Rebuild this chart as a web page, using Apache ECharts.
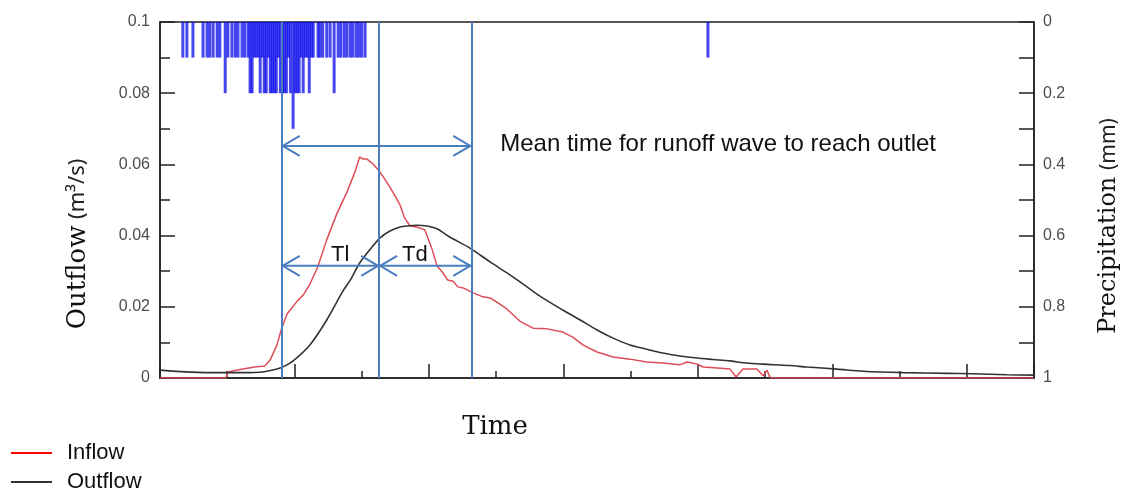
<!DOCTYPE html>
<html>
<head>
<meta charset="utf-8">
<title>Runoff hydrograph</title>
<script src="https://cdn.jsdelivr.net/npm/echarts@6/dist/echarts.min.js"></script>
<style>
  html, body { margin: 0; padding: 0; background: #fff; }
  #chart { width: 1129px; height: 492px; }
</style>
</head>
<body>
<div id="chart"></div>
<script>
// Time axis runs 0..130 (no tick labels)
const timeMin = 0;
const timeMax = 130;

// Tick labels of the two vertical axes
const flowTickLabels = ['0', '', '0.02', '', '0.04', '', '0.06', '', '0.08', '', '0.1'];
const precipTickLabels = ['0', '', '0.2', '', '0.4', '', '0.6', '', '0.8', '', '1'];

// Inflow hydrograph (m3/s)
const inflowTime = [0, 9.8, 10.1, 12.3, 14.1, 15.6, 16.4, 17.4, 18.1, 18.9,
  20.4, 21.3, 22.3, 23.4, 24.8, 26.3, 27.8, 29.0, 29.7, 30.2,
  30.8, 31.7, 32.7, 33.8, 34.7, 35.7, 36.4, 37.2, 38.2, 39.4,
  40.5, 41.2, 42.1, 42.8, 43.6, 44.3, 45.1, 46.6, 48.0, 49.1,
  50.1, 51.6, 53.5, 55.5, 57.6, 59.9, 61.4, 62.9, 65.0, 67.4,
  69.9, 72.4, 74.8, 77.3, 78.4, 79.9, 80.8, 82.9, 84.8, 85.7,
  86.7, 88.8, 89.7, 90.3, 90.7, 91.0, 130];
const inflow = [0, 0, 0.0017, 0.0025, 0.0031, 0.0034, 0.0051, 0.0093, 0.0140, 0.0180,
  0.0216, 0.0233, 0.0264, 0.0309, 0.0388, 0.0461, 0.0522, 0.0579, 0.0621, 0.0615,
  0.0615, 0.0601, 0.0579, 0.0548, 0.0520, 0.0486, 0.0449, 0.0427, 0.0424, 0.0416,
  0.0360, 0.0315, 0.0295, 0.0275, 0.0272, 0.0256, 0.0253, 0.0239, 0.0228, 0.0225,
  0.0213, 0.0194, 0.0160, 0.0140, 0.0138, 0.0129, 0.0115, 0.0093, 0.0073, 0.0059,
  0.0053, 0.0045, 0.0042, 0.0037, 0.0045, 0.0039, 0.0031, 0.0028, 0.0025, 0.0003,
  0.0025, 0.0025, 0.0006, 0.0022, 0.0003, 0, 0];

// Outflow hydrograph (m3/s)
const outflowTime = [0, 3, 7.4, 12.3, 15.3, 17.4, 18.6, 19.8, 22.3, 24.8,
  27.2, 28.3, 29.7, 31.2, 32.7, 34.2, 35.7, 36.7, 38.2, 39.7,
  41.2, 43.1, 46.1, 49.1, 52.1, 54.6, 56.5, 59.9, 62.5, 65.0,
  67.4, 69.9, 72.4, 74.8, 77.3, 79.9, 82.3, 84.8, 87.3, 89.7,
  93.7, 96.2, 100.7, 104.6, 110.5, 117.1, 120.8, 126, 130];
const outflow = [0.0022, 0.0018, 0.0015, 0.0015, 0.0017, 0.0025, 0.0034, 0.0048, 0.0093, 0.0163,
  0.0244, 0.0275, 0.0323, 0.0360, 0.0393, 0.0413, 0.0424, 0.0427, 0.0429, 0.0427,
  0.0419, 0.0396, 0.0365, 0.0326, 0.0289, 0.0256, 0.0230, 0.0191, 0.0163, 0.0135,
  0.0112, 0.0093, 0.0081, 0.0070, 0.0062, 0.0056, 0.0052, 0.0048, 0.0042, 0.0039,
  0.0035, 0.0031, 0.0025, 0.0019, 0.0015, 0.0013, 0.0012, 0.0009, 0.0008];

// Precipitation hyetograph (mm), hanging from the top axis
const precipTime = [3.4, 4.0, 4.9, 6.4, 7.0, 7.4, 7.9, 8.5, 8.9, 9.7,
  10.1, 10.7, 11.2, 11.6, 12.2, 12.6, 13.1, 13.4, 13.7, 14.0,
  14.3, 14.6, 14.9, 15.2, 15.5, 15.8, 16.1, 16.4, 16.7, 17.0,
  17.3, 17.6, 17.9, 18.2, 18.5, 18.8, 19.1, 19.4, 19.8, 20.1,
  20.4, 20.7, 21.0, 21.3, 21.6, 21.9, 22.2, 22.5, 22.8, 23.5,
  23.8, 24.2, 24.8, 25.3, 25.9, 26.5, 26.9, 27.4, 27.8, 28.3,
  28.7, 29.2, 29.6, 30.0, 30.5, 81.5];
const precipDepth = [0.1, 0.1, 0.1, 0.1, 0.1, 0.1, 0.1, 0.1, 0.1, 0.2,
  0.1, 0.1, 0.1, 0.1, 0.1, 0.1, 0.1, 0.2, 0.2, 0.1,
  0.1, 0.1, 0.2, 0.1, 0.2, 0.2, 0.1, 0.2, 0.2, 0.2,
  0.2, 0.1, 0.2, 0.2, 0.2, 0.2, 0.1, 0.2, 0.3, 0.2,
  0.2, 0.2, 0.1, 0.2, 0.1, 0.1, 0.2, 0.1, 0.1, 0.1,
  0.1, 0.1, 0.1, 0.1, 0.2, 0.1, 0.1, 0.1, 0.1, 0.1,
  0.1, 0.1, 0.1, 0.1, 0.1, 0.1];

// Guide lines: start of runoff, centroid of outflow, arrival at outlet
const guideTimes = [18.1, 32.6, 46.3];
// Double-headed arrows: [from, to, height on flow axis]
const spanArrows = [[18.1, 46.3, 0.0652], [18.1, 32.6, 0.0315], [32.6, 46.3, 0.0315]];
// Arrow captions: [text, time, flow]
const spanLabels = [['Tl', 26.8, 0.0347], ['Td', 37.9, 0.0347]];
const noteLabels = [['Mean time for runoff wave to reach outlet', 50.6, 0.0655]];

const guideColor = '#4a7ebf';
const axisColor = '#222';
const serif = 'DejaVu Serif';
const sans = 'Liberation Sans';

const chart = echarts.init(document.getElementById('chart'));

function zip(xs, ys) { return xs.map((x, i) => [x, ys[i]]); }

function renderArrow(params, api) {
  const a = api.coord([api.value(0), api.value(2)]);
  const b = api.coord([api.value(1), api.value(2)]);
  const style = { stroke: guideColor, lineWidth: 2, fill: null };
  const hx = 18, hy = 10;
  return {
    type: 'group',
    children: [
      { type: 'line', shape: { x1: a[0], y1: a[1], x2: b[0], y2: b[1] }, style: style },
      { type: 'polyline', shape: { points: [[a[0] + hx, a[1] - hy], [a[0] + 1, a[1]], [a[0] + hx, a[1] + hy]] }, style: style },
      { type: 'polyline', shape: { points: [[b[0] - hx, b[1] - hy], [b[0] - 1, b[1]], [b[0] - hx, b[1] + hy]] }, style: style }
    ]
  };
}

function makeTextRenderer(size, align) {
  return function (params, api) {
    const p = api.coord([api.value(1), api.value(2)]);
    return {
      type: 'text',
      x: p[0], y: p[1],
      style: {
        text: api.value(0),
        fontFamily: sans, fontSize: size, fill: '#111',
        align: align, verticalAlign: 'middle'
      }
    };
  };
}

const plotBox = { left: 160, right: 95, top: 22, bottom: 114 };
const tickLine = { color: axisColor, width: 1.5 };

const option = {
  animation: false,
  backgroundColor: '#fff',
  grid: [
    // main plotting area with its frame
    Object.assign({ show: true, borderColor: axisColor, borderWidth: 1.5, backgroundColor: 'transparent' }, plotBox),
    // same area again, carrying only the longer (major) ticks
    Object.assign({ show: false }, plotBox)
  ],
  legend: [
    {
      orient: 'horizontal', left: 11, top: 442, padding: 0,
      itemWidth: 41, itemHeight: 2, icon: 'rect',
      textStyle: { fontFamily: sans, fontSize: 22, color: '#111', padding: [0, 0, 0, 10] },
      data: [{ name: 'Inflow', itemStyle: { color: '#ff0000' } }]
    },
    {
      orient: 'horizontal', left: 11, top: 471, padding: 0,
      itemWidth: 41, itemHeight: 2, icon: 'rect',
      textStyle: { fontFamily: sans, fontSize: 22, color: '#111', padding: [0, 0, 0, 10] },
      data: [{ name: 'Outflow', itemStyle: { color: '#333333' } }]
    }
  ],
  xAxis: [
    {
      gridIndex: 0, type: 'value', min: timeMin, max: timeMax, interval: 10,
      axisLine: { show: true, lineStyle: tickLine },
      axisTick: { show: true, inside: true, length: 7, lineStyle: tickLine },
      axisLabel: { show: false },
      splitLine: { show: false }
    },
    {
      gridIndex: 1, type: 'value', min: timeMin, max: timeMax, interval: 20,
      axisLine: { show: false },
      axisTick: { show: true, inside: true, length: 14, lineStyle: tickLine },
      axisLabel: { show: false },
      splitLine: { show: false }
    }
  ],
  yAxis: [
    {
      gridIndex: 0, type: 'value', min: 0, max: 0.1, interval: 0.01, position: 'left',
      axisLine: { show: true, lineStyle: tickLine },
      axisTick: { show: true, inside: true, length: 10, lineStyle: tickLine },
      axisLabel: {
        fontFamily: sans, fontSize: 16, color: '#4d4d4d', margin: 10,
        formatter: (v, i) => flowTickLabels[i]
      },
      splitLine: { show: false }
    },
    {
      gridIndex: 0, type: 'value', min: 0, max: 1, interval: 0.1, inverse: true, position: 'right',
      axisLine: { show: true, lineStyle: tickLine },
      axisTick: { show: true, inside: true, length: 15, lineStyle: tickLine },
      axisLabel: {
        fontFamily: sans, fontSize: 16, color: '#4d4d4d', margin: 9,
        formatter: (v, i) => precipTickLabels[i]
      },
      splitLine: { show: false }
    },
    {
      gridIndex: 1, type: 'value', min: 0, max: 0.1, interval: 0.02, position: 'left',
      axisLine: { show: false },
      axisTick: { show: true, inside: true, length: 15, lineStyle: tickLine },
      axisLabel: { show: false },
      splitLine: { show: false }
    }
  ],
  graphic: [
    {
      type: 'text', x: 495, y: 427,
      style: { text: 'Time', fontFamily: serif, fontSize: 26, fill: '#111', align: 'center', verticalAlign: 'middle' }
    },
    {
      type: 'text', x: 78, y: 244, rotation: Math.PI / 2,
      style: {
        text: '{a|Outflow}  {b|(m³/s)}', align: 'center', verticalAlign: 'middle',
        rich: {
          a: { fontFamily: serif, fontSize: 26, fill: '#111' },
          b: { fontFamily: 'Noto Sans', fontSize: 22, fill: '#222' }
        }
      }
    },
    {
      type: 'text', x: 1109, y: 226, rotation: Math.PI / 2,
      style: {
        text: '{a|Precipitation}  {b|(mm)}', align: 'center', verticalAlign: 'middle',
        rich: {
          a: { fontFamily: serif, fontSize: 24, fill: '#111' },
          b: { fontFamily: 'Noto Sans', fontSize: 21, fill: '#222' }
        }
      }
    }
  ],
  series: [
    {
      name: 'Precipitation', type: 'bar', xAxisIndex: 0, yAxisIndex: 1,
      barWidth: 3,
      itemStyle: { color: 'rgba(0,0,235,0.72)' },
      data: zip(precipTime, precipDepth),
      z: 1
    },
    {
      name: 'Inflow', type: 'line', xAxisIndex: 0, yAxisIndex: 0,
      showSymbol: false, smooth: false,
      lineStyle: { color: '#de4c57', width: 1.5 },
      itemStyle: { color: '#de4c57' },
      data: zip(inflowTime, inflow),
      z: 3
    },
    {
      name: 'Outflow', type: 'line', xAxisIndex: 0, yAxisIndex: 0,
      showSymbol: false, smooth: 0.3,
      lineStyle: { color: '#333333', width: 1.6 },
      itemStyle: { color: '#333333' },
      data: zip(outflowTime, outflow),
      markLine: {
        silent: true, symbol: 'none',
        label: { show: false },
        lineStyle: { color: guideColor, width: 2, type: 'solid' },
        data: guideTimes.map(t => ({ xAxis: t }))
      },
      z: 4
    },
    {
      name: 'Spans', type: 'custom', xAxisIndex: 0, yAxisIndex: 0,
      renderItem: renderArrow,
      encode: { x: [0, 1], y: 2 },
      data: spanArrows,
      silent: true,
      z: 5
    },
    {
      name: 'SpanLabels', type: 'custom', xAxisIndex: 0, yAxisIndex: 0,
      renderItem: makeTextRenderer(22, 'center'),
      encode: { x: 1, y: 2 },
      data: spanLabels,
      silent: true,
      z: 6
    },
    {
      name: 'Note', type: 'custom', xAxisIndex: 0, yAxisIndex: 0,
      renderItem: makeTextRenderer(24, 'left'),
      encode: { x: 1, y: 2 },
      data: noteLabels,
      silent: true,
      z: 6
    }
  ]
};

chart.setOption(option);
</script>
</body>
</html>
